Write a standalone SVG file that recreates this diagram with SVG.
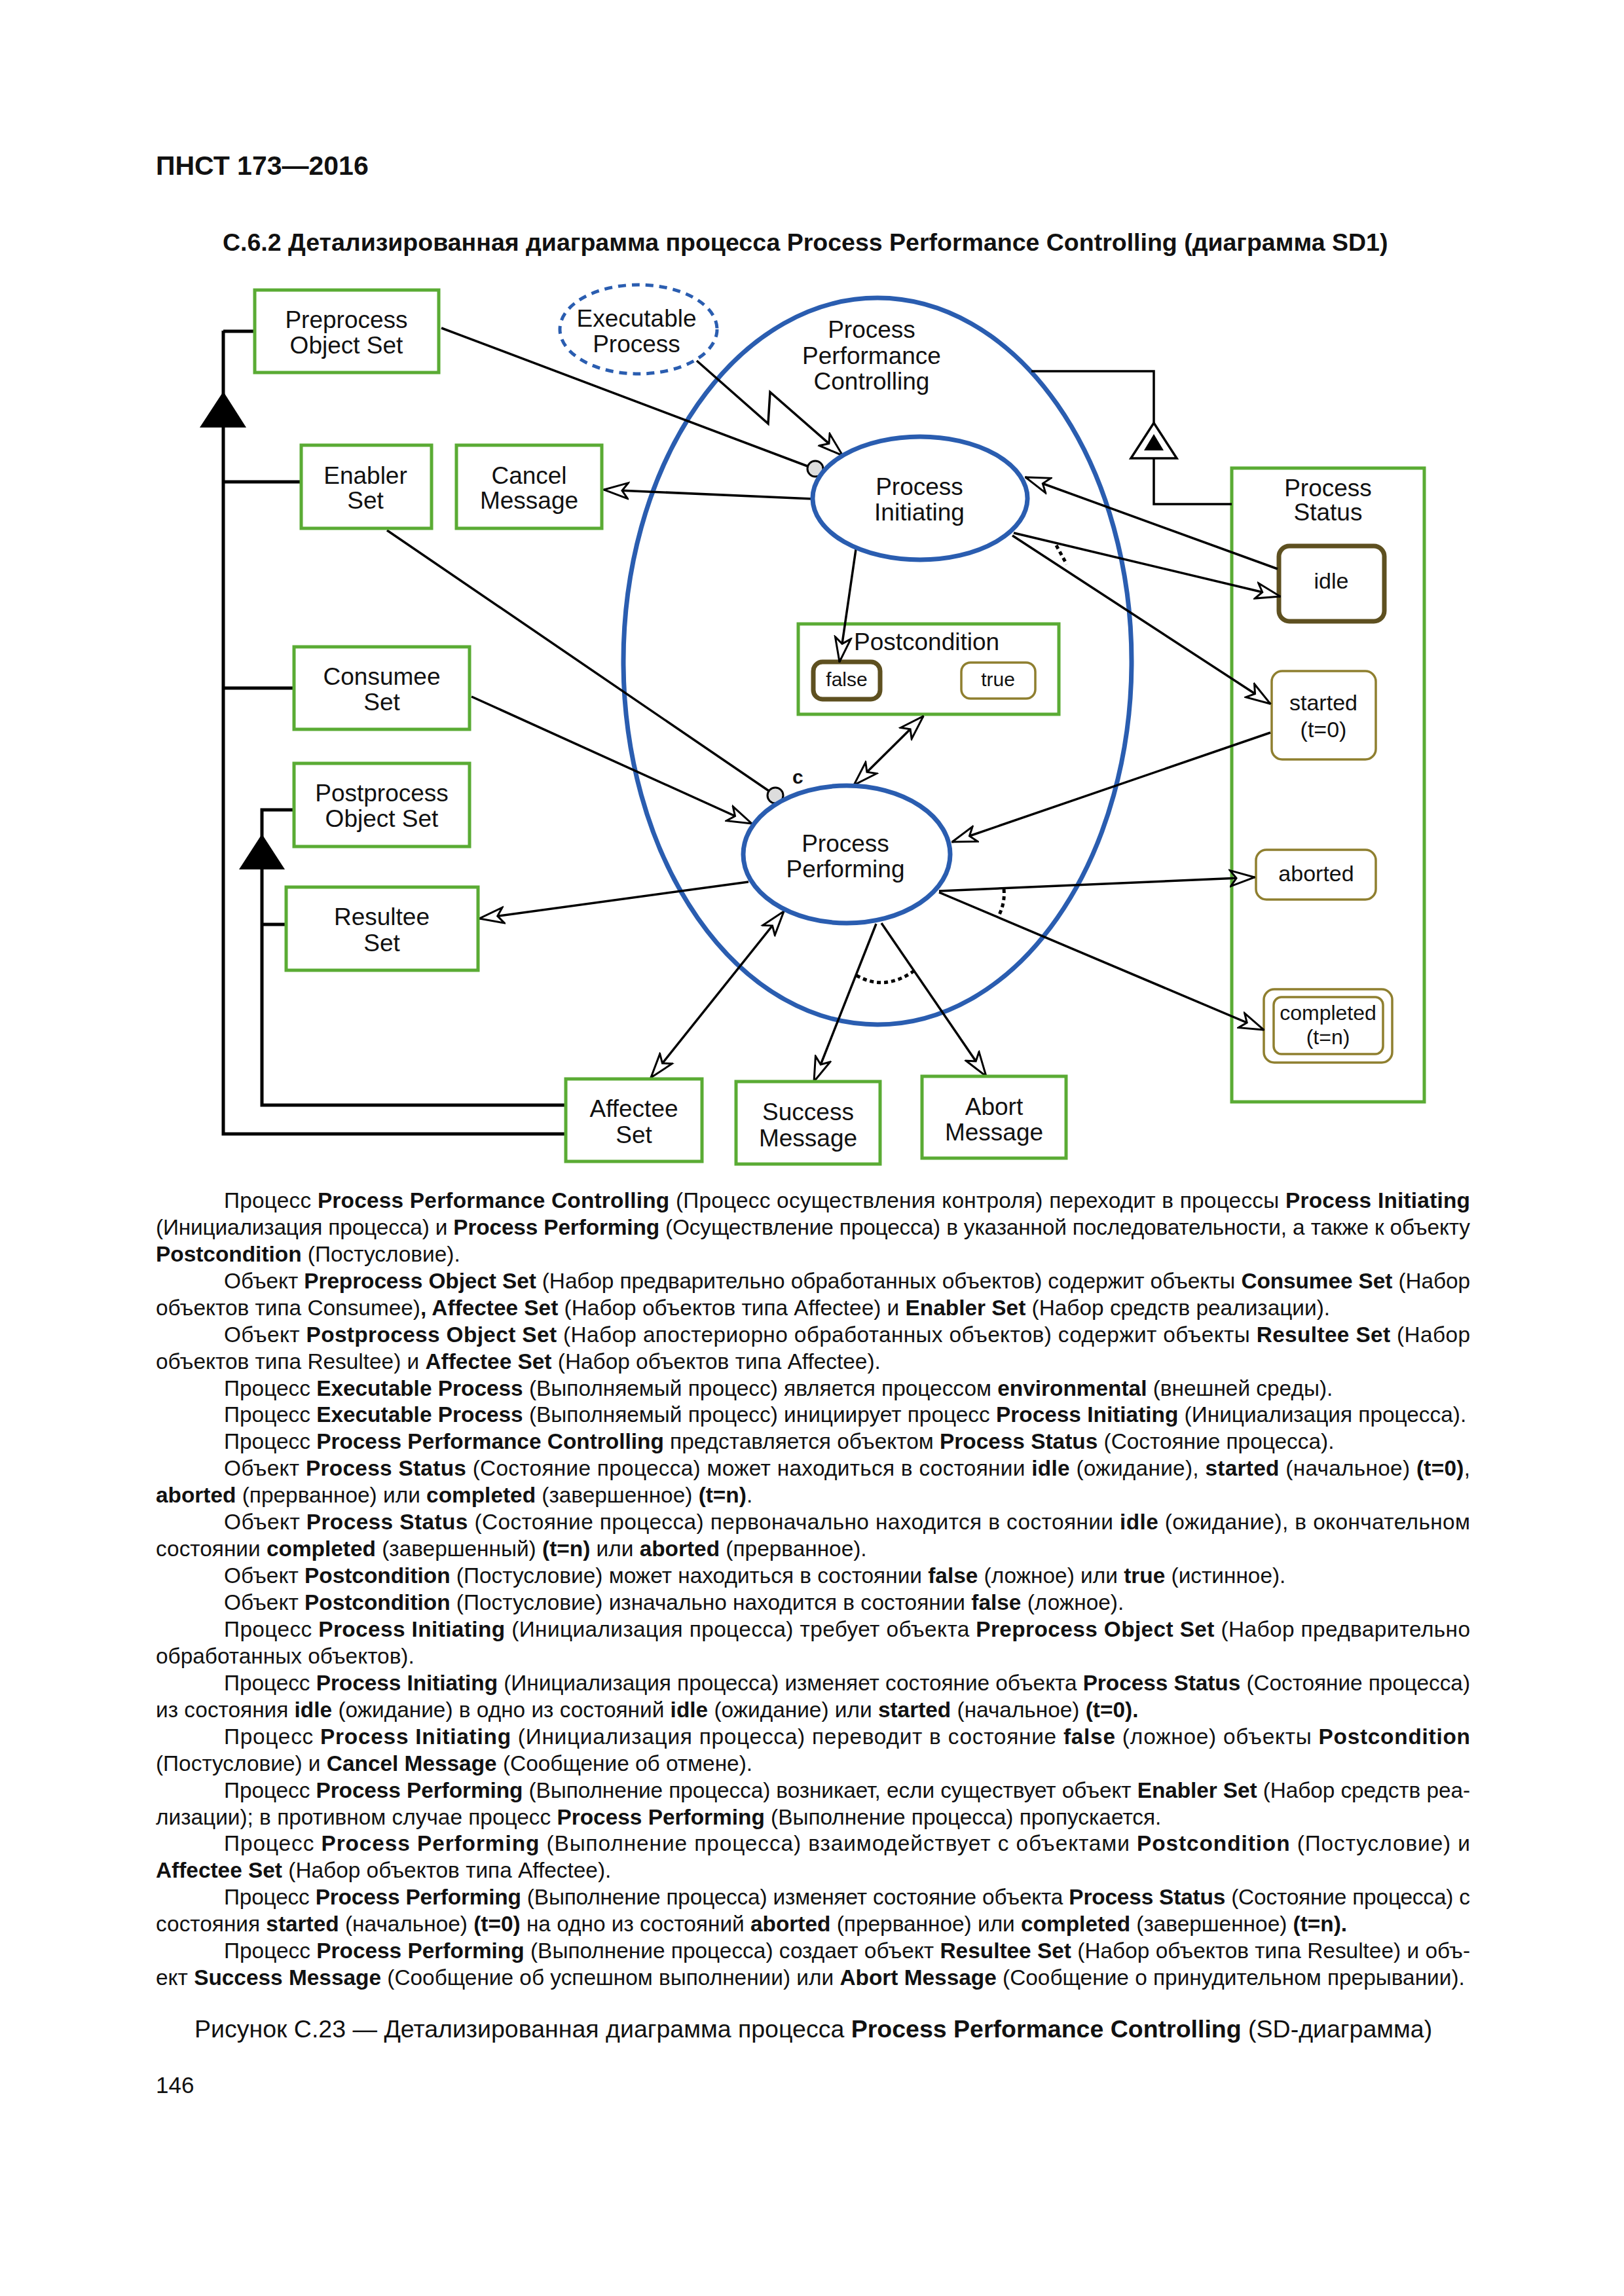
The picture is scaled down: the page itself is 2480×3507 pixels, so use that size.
<svg xmlns="http://www.w3.org/2000/svg" width="2480" height="3507" viewBox="0 0 2480 3507">
<style>
.box{fill:#fff;stroke:#5aab34;stroke-width:5}
.frame{fill:none;stroke:#5aab34;stroke-width:5}
.proc{fill:#fff;stroke:#2a5db0;stroke-width:7}
.st{fill:#fff;stroke:#8f7f2f;stroke-width:3.5}
.stk{fill:#fff;stroke:#5e5020;stroke-width:7}
.ln{stroke:#000;stroke-width:3.5;fill:none}
.bus{stroke:#000;stroke-width:5;fill:none}
.dot{stroke:#000;stroke-width:5;fill:none;stroke-dasharray:6 5}
.t{font-family:"Liberation Sans",Arial,sans-serif;font-size:37px;text-anchor:middle;fill:#111}
.s{font-family:"Liberation Sans",Arial,sans-serif;font-size:34px;text-anchor:middle;fill:#111}
.body{font-family:"Liberation Sans",Arial,sans-serif;font-size:33.4px;fill:#111}
.b{font-weight:bold}
</style>
<defs>
<marker id="ah" viewBox="0 0 40 30" refX="39" refY="15" markerWidth="40" markerHeight="30" markerUnits="userSpaceOnUse" orient="auto-start-reverse">
<path d="M2,3 L39,15 L2,27 L11,15 Z" fill="#fff" stroke="#000" stroke-width="3"/>
</marker>
</defs>
<rect width="2480" height="3507" fill="#fff"/>

<text x="238" y="267" font-family="Liberation Sans, Arial, sans-serif" font-size="41" font-weight="bold" fill="#111">ПНСТ 173—2016</text>
<text x="340" y="383" font-family="Liberation Sans, Arial, sans-serif" font-size="37.5" font-weight="bold" fill="#111">С.6.2 Детализированная диаграмма процесса Process Performance Controlling (диаграмма SD1)</text>

<g id="ppc">
<ellipse cx="1340" cy="1010" rx="388" ry="555" fill="none" stroke="#2a5db0" stroke-width="7"/>
<text class="t" x="1331" y="516">Process</text>
<text class="t" x="1331" y="556">Performance</text>
<text class="t" x="1331" y="595">Controlling</text>
</g>

<g id="status"><rect class="frame" x="1881" y="715" width="294" height="968"/><text class="t" x="2028" y="758">Process</text><text class="t" x="2028" y="795">Status</text>
<rect class="stk" x="1953" y="834" width="161" height="115" rx="16"/><text class="s" x="2033" y="899">idle</text>
<rect class="st" x="1942" y="1025" width="159" height="135" rx="16"/><text class="s" x="2021" y="1085">started</text><text class="s" x="2021" y="1126">(t=0)</text>
<rect class="st" x="1918" y="1298" width="183" height="76" rx="16"/><text class="s" x="2010" y="1346">aborted</text>
<rect class="st" x="1930" y="1511" width="196" height="112" rx="16"/><rect class="st" x="1945" y="1523" width="167" height="87" rx="12"/><text class="s" x="2028" y="1558" style="font-size:32px">completed</text><text class="s" x="2028" y="1595" style="font-size:32px">(t=n)</text>
</g>

<g id="postcondition"><rect class="frame" x="1219" y="953" width="398" height="138"/><text class="t" x="1304" y="993" style="text-anchor:start">Postcondition</text>
<rect class="stk" x="1242" y="1011" width="102" height="57" rx="14"/><text class="s" x="1293" y="1048" style="font-size:30px">false</text>
<rect class="st" x="1468" y="1012" width="113" height="55" rx="14"/><text class="s" x="1524" y="1048" style="font-size:30px">true</text>
</g>

<g id="connectors">
<path class="bus" d="M341,505 V1732 H864"/>
<path class="bus" d="M341,506 H389 M341,736 H460 M341,1051 H449"/>
<polygon points="341,598 305,653 376,653" fill="#000"/>
<path class="bus" d="M449,1237 H400 V1688 H864 M400,1412 H437"/>
<polygon points="400,1274 365,1328 435,1328" fill="#000"/>
<path class="ln" d="M1575,567 H1762 V646 M1762,700 V770 H1881"/>
<polygon points="1762,646 1727,700 1797,700" fill="#fff" stroke="#000" stroke-width="3.5"/>
<polygon points="1762,663 1747,688 1777,688" fill="#000"/>
<line class="ln" x1="674" y1="501" x2="1233" y2="712"/>
<circle cx="1245" cy="716" r="12" fill="#ddd" stroke="#000" stroke-width="3"/>
<line class="ln" x1="591" y1="810" x2="1174" y2="1208"/>
<circle cx="1184" cy="1215" r="12" fill="#ddd" stroke="#000" stroke-width="3"/>
<path class="ln" d="M1064,551 L1173,647 L1176,599 L1287,696" marker-end="url(#ah)"/>
<line class="ln" x1="1241" y1="762" x2="922" y2="748" marker-end="url(#ah)"/>
<line class="ln" x1="1951" y1="869" x2="1566" y2="729" marker-end="url(#ah)"/>
<line class="ln" x1="1548" y1="814" x2="1955" y2="911" marker-end="url(#ah)"/>
<line class="ln" x1="1546" y1="818" x2="1940" y2="1075" marker-end="url(#ah)"/>
<line class="dot" x1="1613" y1="833" x2="1629" y2="862"/>
<line class="ln" x1="1307" y1="839" x2="1282" y2="1011" marker-end="url(#ah)"/>
<line class="ln" x1="1410" y1="1094" x2="1304" y2="1199" marker-start="url(#ah)" marker-end="url(#ah)"/>
<line class="ln" x1="1940" y1="1119" x2="1454" y2="1286" marker-end="url(#ah)"/>
<line class="ln" x1="720" y1="1064" x2="1148" y2="1258" marker-end="url(#ah)"/>
<line class="ln" x1="1143" y1="1347" x2="732" y2="1403" marker-end="url(#ah)"/>
<line class="ln" x1="1197" y1="1392" x2="994" y2="1646" marker-start="url(#ah)" marker-end="url(#ah)"/>
<line class="ln" x1="1338" y1="1411" x2="1243" y2="1652" marker-end="url(#ah)"/>
<line class="ln" x1="1346" y1="1410" x2="1506" y2="1644" marker-end="url(#ah)"/>
<path class="dot" d="M1308,1490 Q1352,1515 1397,1482"/>
<line class="ln" x1="1434" y1="1361" x2="1916" y2="1340" marker-end="url(#ah)"/>
<line class="ln" x1="1434" y1="1363" x2="1930" y2="1573" marker-end="url(#ah)"/>
<path class="dot" d="M1533,1358 Q1535,1378 1526,1397"/>
</g>

<text x="1210" y="1197" font-family="Liberation Sans, Arial, sans-serif" font-size="30" font-weight="bold" fill="#111">c</text>

<g id="preprocess"><rect class="box" x="389" y="443" width="281" height="126"/><text class="t" x="529" y="501">Preprocess</text><text class="t" x="529" y="540">Object Set</text></g>
<g id="executable"><ellipse cx="975" cy="503" rx="120" ry="68" fill="#fff" stroke="#2a5db0" stroke-width="5" stroke-dasharray="12 9"/><text class="t" x="972" y="499">Executable</text><text class="t" x="972" y="538">Process</text></g>
<g id="enabler"><rect class="box" x="460" y="680" width="199" height="127"/><text class="t" x="558" y="739">Enabler</text><text class="t" x="558" y="777">Set</text></g>
<g id="cancel"><rect class="box" x="697" y="680" width="222" height="127"/><text class="t" x="808" y="739">Cancel</text><text class="t" x="808" y="777">Message</text></g>
<g id="consumee"><rect class="box" x="449" y="988" width="268" height="126"/><text class="t" x="583" y="1046">Consumee</text><text class="t" x="583" y="1085">Set</text></g>
<g id="postprocess"><rect class="box" x="449" y="1166" width="268" height="127"/><text class="t" x="583" y="1224">Postprocess</text><text class="t" x="583" y="1263">Object Set</text></g>
<g id="resultee"><rect class="box" x="437" y="1355" width="293" height="127"/><text class="t" x="583" y="1413">Resultee</text><text class="t" x="583" y="1453">Set</text></g>
<g id="affectee"><rect class="box" x="864" y="1648" width="208" height="126"/><text class="t" x="968" y="1706">Affectee</text><text class="t" x="968" y="1746">Set</text></g>
<g id="success"><rect class="box" x="1124" y="1652" width="220" height="126"/><text class="t" x="1234" y="1711">Success</text><text class="t" x="1234" y="1751">Message</text></g>
<g id="abort"><rect class="box" x="1408" y="1644" width="220" height="125"/><text class="t" x="1518" y="1703">Abort</text><text class="t" x="1518" y="1742">Message</text></g>

<g id="initiating"><ellipse class="proc" cx="1405" cy="761" rx="164" ry="94"/><text class="t" x="1404" y="756">Process</text><text class="t" x="1404" y="795">Initiating</text></g>
<g id="performing"><ellipse class="proc" cx="1293" cy="1305" rx="158" ry="105"/><text class="t" x="1291" y="1301">Process</text><text class="t" x="1291" y="1340">Performing</text></g>

<g id="bodytext" class="body">
<text x="342" y="1845" textLength="1903" lengthAdjust="spacing">Процесс <tspan class="b">Process Performance Controlling</tspan> (Процесс осуществления контроля) переходит в процессы <tspan class="b">Process Initiating</tspan></text>
<text x="238" y="1886" textLength="2007" lengthAdjust="spacing">(Инициализация процесса) и <tspan class="b">Process Performing</tspan> (Осуществление процесса) в указанной последовательности, а также к объекту</text>
<text x="238" y="1927"><tspan class="b">Postcondition</tspan> (Постусловие).</text>
<text x="342" y="1968" textLength="1903" lengthAdjust="spacing">Объект <tspan class="b">Preprocess Object Set</tspan> (Набор предварительно обработанных объектов) содержит объекты <tspan class="b">Consumee Set</tspan> (Набор</text>
<text x="238" y="2009">объектов типа Consumee)<tspan class="b">, Affectee Set</tspan> (Набор объектов типа Affectee) и <tspan class="b">Enabler Set</tspan> (Набор средств реализации).</text>
<text x="342" y="2050" textLength="1903" lengthAdjust="spacing">Объект <tspan class="b">Postprocess Object Set</tspan> (Набор апостериорно обработанных объектов) содержит объекты <tspan class="b">Resultee Set</tspan> (Набор</text>
<text x="238" y="2091">объектов типа Resultee) и <tspan class="b">Affectee Set</tspan> (Набор объектов типа Affectee).</text>
<text x="342" y="2132">Процесс <tspan class="b">Executable Process</tspan> (Выполняемый процесс) является процессом <tspan class="b">environmental</tspan> (внешней среды).</text>
<text x="342" y="2172">Процесс <tspan class="b">Executable Process</tspan> (Выполняемый процесс) инициирует процесс <tspan class="b">Process Initiating</tspan> (Инициализация процесса).</text>
<text x="342" y="2213">Процесс <tspan class="b">Process Performance Controlling</tspan> представляется объектом <tspan class="b">Process Status</tspan> (Состояние процесса).</text>
<text x="342" y="2254" textLength="1903" lengthAdjust="spacing">Объект <tspan class="b">Process Status</tspan> (Состояние процесса) может находиться в состоянии <tspan class="b">idle</tspan> (ожидание), <tspan class="b">started</tspan> (начальное) <tspan class="b">(t=0)</tspan>,</text>
<text x="238" y="2295"><tspan class="b">aborted</tspan> (прерванное) или <tspan class="b">completed</tspan> (завершенное) <tspan class="b">(t=n)</tspan>.</text>
<text x="342" y="2336" textLength="1903" lengthAdjust="spacing">Объект <tspan class="b">Process Status</tspan> (Состояние процесса) первоначально находится в состоянии <tspan class="b">idle</tspan> (ожидание), в окончательном</text>
<text x="238" y="2377">состоянии <tspan class="b">completed</tspan> (завершенный) <tspan class="b">(t=n)</tspan> или <tspan class="b">aborted</tspan> (прерванное).</text>
<text x="342" y="2418">Объект <tspan class="b">Postcondition</tspan> (Постусловие) может находиться в состоянии <tspan class="b">false</tspan> (ложное) или <tspan class="b">true</tspan> (истинное).</text>
<text x="342" y="2459">Объект <tspan class="b">Postcondition</tspan> (Постусловие) изначально находится в состоянии <tspan class="b">false</tspan> (ложное).</text>
<text x="342" y="2500" textLength="1903" lengthAdjust="spacing">Процесс <tspan class="b">Process Initiating</tspan> (Инициализация процесса) требует объекта <tspan class="b">Preprocess Object Set</tspan> (Набор предварительно</text>
<text x="238" y="2541">обработанных объектов).</text>
<text x="342" y="2582" textLength="1903" lengthAdjust="spacing">Процесс <tspan class="b">Process Initiating</tspan> (Инициализация процесса) изменяет состояние объекта <tspan class="b">Process Status</tspan> (Состояние процесса)</text>
<text x="238" y="2623">из состояния <tspan class="b">idle</tspan> (ожидание) в одно из состояний <tspan class="b">idle</tspan> (ожидание) или <tspan class="b">started</tspan> (начальное) <tspan class="b">(t=0).</tspan></text>
<text x="342" y="2664" textLength="1903" lengthAdjust="spacing">Процесс <tspan class="b">Process Initiating</tspan> (Инициализация процесса) переводит в состояние <tspan class="b">false</tspan> (ложное) объекты <tspan class="b">Postcondition</tspan></text>
<text x="238" y="2705">(Постусловие) и <tspan class="b">Cancel Message</tspan> (Сообщение об отмене).</text>
<text x="342" y="2746" textLength="1903" lengthAdjust="spacing">Процесс <tspan class="b">Process Performing</tspan> (Выполнение процесса) возникает, если существует объект <tspan class="b">Enabler Set</tspan> (Набор средств реа-</text>
<text x="238" y="2787">лизации); в противном случае процесс <tspan class="b">Process Performing</tspan> (Выполнение процесса) пропускается.</text>
<text x="342" y="2827" textLength="1903" lengthAdjust="spacing">Процесс <tspan class="b">Process Performing</tspan> (Выполнение процесса) взаимодействует с объектами <tspan class="b">Postcondition</tspan> (Постусловие) и</text>
<text x="238" y="2868"><tspan class="b">Affectee Set</tspan> (Набор объектов типа Affectee).</text>
<text x="342" y="2909" textLength="1903" lengthAdjust="spacing">Процесс <tspan class="b">Process Performing</tspan> (Выполнение процесса) изменяет состояние объекта <tspan class="b">Process Status</tspan> (Состояние процесса) с</text>
<text x="238" y="2950">состояния <tspan class="b">started</tspan> (начальное) <tspan class="b">(t=0)</tspan> на одно из состояний <tspan class="b">aborted</tspan> (прерванное) или <tspan class="b">completed</tspan> (завершенное) <tspan class="b">(t=n).</tspan></text>
<text x="342" y="2991" textLength="1903" lengthAdjust="spacing">Процесс <tspan class="b">Process Performing</tspan> (Выполнение процесса) создает объект <tspan class="b">Resultee Set</tspan> (Набор объектов типа Resultee) и объ-</text>
<text x="238" y="3032">ект <tspan class="b">Success Message</tspan> (Сообщение об успешном выполнении) или <tspan class="b">Abort Message</tspan> (Сообщение о принудительном прерывании).</text>
</g>

<text x="297" y="3112" font-family="Liberation Sans, Arial, sans-serif" font-size="37.5" fill="#111">Рисунок С.23 — Детализированная диаграмма процесса <tspan font-weight="bold">Process Performance Controlling</tspan> (SD-диаграмма)</text>
<text x="238" y="3197" font-family="Liberation Sans, Arial, sans-serif" font-size="35" fill="#111">146</text>
</svg>
